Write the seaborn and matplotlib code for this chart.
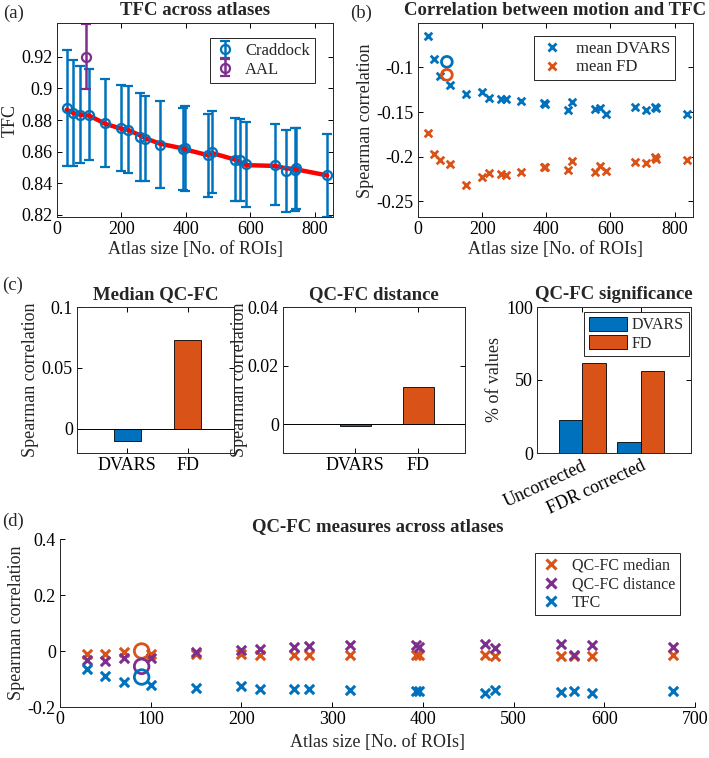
import numpy as np
import pandas as pd
import seaborn as sns
import matplotlib.pyplot as plt
from matplotlib.ticker import FuncFormatter
from matplotlib.lines import Line2D
import matplotlib.patches as mpatches

# ---- data ----
atlas_size = [30, 50, 70, 100, 150, 200, 220, 258, 274, 320, 392, 396,
              468, 480, 552, 567, 586, 676, 710, 738, 742, 838]
tfc_mean = [0.8875, 0.8843, 0.8835, 0.8835, 0.878, 0.8751, 0.874, 0.8692, 0.8682, 0.8644, 0.8615, 0.8622,
            0.8577, 0.8598, 0.855, 0.8545, 0.852, 0.8518, 0.8478, 0.8487, 0.8495, 0.845]
tfc_err = [0.0367, 0.0336, 0.0308, 0.0287, 0.0279, 0.0273, 0.0273, 0.0279, 0.027, 0.0275, 0.026, 0.027,
           0.0262, 0.0258, 0.0264, 0.026, 0.0267, 0.0254, 0.026, 0.0264, 0.0255, 0.0263]
tfc_smooth = [0.8865, 0.8845, 0.8835, 0.8828, 0.8776, 0.8745, 0.8738, 0.8703, 0.8685, 0.865, 0.862, 0.8615,
              0.8578, 0.8592, 0.855, 0.8535, 0.8515, 0.851, 0.8495, 0.849, 0.8488, 0.845]
aal_size = [90]
aal_tfc = [0.920]
aal_err = [0.0205]

mean_dvars = [-0.0652, -0.0906, -0.110, -0.120, -0.130, -0.1276, -0.134, -0.1359, -0.135, -0.1378, -0.1404, -0.141,
              -0.148, -0.139, -0.1464, -0.145, -0.1517, -0.1441, -0.148, -0.1441, -0.145, -0.152]
mean_fd = [-0.1735, -0.1973, -0.2037, -0.2083, -0.232, -0.2226, -0.2188, -0.2196, -0.2207, -0.2177, -0.2113, -0.212,
           -0.215, -0.2045, -0.217, -0.2105, -0.2158, -0.2056, -0.2075, -0.200, -0.2025, -0.2037]
aal_dvars = [-0.0937]
aal_fd = [-0.1083]

motion = ["DVARS", "FD"]
median_qcfc = [-0.010, 0.0728]
dist_qcfc = [-0.0006, 0.0126]
sig_type = ["Uncorrected", "FDR corrected"]
sig_dvars = [22.3, 7.3]
sig_fd = [61.4, 56.4]

qc_size = atlas_size[:18]
qcfc_median = [-0.0095, -0.0095, -0.0036, -0.0095, -0.012, -0.012, -0.013, -0.0155, -0.0155, -0.0155, -0.0155,
               -0.0155, -0.0155, -0.018, -0.018, -0.017, -0.018, -0.0155]
qcfc_distance = [-0.031, -0.0357, -0.0238, -0.0238, -0.0036, 0.0048, 0.007, 0.0143, 0.0167, 0.020, 0.020,
                 0.014, 0.026, 0.011, 0.026, -0.0155, 0.020, 0.014]
qcfc_tfc = [-0.063, -0.0905, -0.1107, -0.120, -0.131, -0.126, -0.1345, -0.1345, -0.1345, -0.138, -0.143,
            -0.143, -0.149, -0.140, -0.146, -0.144, -0.150, -0.143]
aal_qc = [0.0, -0.0548, -0.0929]  # median, distance, TFC

BLUE = "#0072BD"
ORANGE = "#D95319"
PURPLE = "#7E2F8E"
AX_COL = "#262626"

sns.set_style("ticks")
plt.rcParams['font.family'] = ['Liberation Serif', 'DejaVu Serif']
plt.rcParams['font.size'] = 13
plt.rcParams['axes.edgecolor'] = AX_COL
plt.rcParams['axes.linewidth'] = 0.7

W, H = 709, 758
fig = plt.figure(figsize=(W / 100, H / 100), dpi=100)


def px_axes(l, r, t, b):
    return fig.add_axes([l / W, 1 - b / H, (r - l) / W, (b - t) / H])


gfmt = FuncFormatter(lambda v, p: "%g" % round(v, 6))


def style(ax, box=True):
    ax.tick_params(direction='in', length=3.5, width=0.7, labelsize=13, colors='black',
                   top=box, right=box, pad=3)
    for s in ['top', 'right']:
        ax.spines[s].set_visible(box)
    ax.yaxis.set_major_formatter(gfmt)


def legend(ax, handles, labels, anchor, fs=12, **kw):
    opts = dict(loc='upper right', bbox_to_anchor=anchor, frameon=True, fancybox=False,
                framealpha=1, edgecolor=AX_COL, fontsize=fs, borderaxespad=0,
                handletextpad=0.6, borderpad=0.3, labelspacing=0.15)
    opts.update(kw)
    lg = ax.legend(handles, labels, **opts)
    lg.get_frame().set_linewidth(0.7)
    return lg


# ---- (a) ----
ax = px_axes(57, 333, 23.3, 217.3)
h1 = ax.errorbar(atlas_size, tfc_mean, yerr=tfc_err, fmt='o', mfc='none', color=BLUE, ms=6.5, mew=1.6,
                 elinewidth=1.8, capsize=3.5, capthick=1.8)
h2 = ax.errorbar(aal_size, aal_tfc, yerr=aal_err, fmt='o', mfc='none', color=PURPLE, ms=6.5, mew=1.6,
                 elinewidth=1.8, capsize=3.5, capthick=1.8)
sns.lineplot(x=atlas_size, y=tfc_smooth, color='red', lw=3.2, ax=ax)
ax.set_xlim(0, 856)
ax.set_ylim(0.8185, 0.9412)
ax.set_xticks([0, 200, 400, 600, 800])
ax.set_yticks([0.82, 0.84, 0.86, 0.88, 0.9, 0.92])
style(ax)
ax.set_xlabel("Atlas size [No. of ROIs]", fontsize=13, labelpad=2)
ax.set_ylabel("TFC", fontsize=13, labelpad=2)
ax.set_title("TFC across atlases", fontsize=13.5, fontweight='bold', pad=6)
legend(ax, [h1, h2], ["Craddock", "AAL"], (0.935, 0.924), handlelength=1.2)

# ---- (b) ----
ax = px_axes(418, 692.5, 23.3, 217.3)
sns.scatterplot(x=atlas_size, y=mean_dvars, marker='x', color=BLUE, s=30, linewidth=2, ax=ax)
sns.scatterplot(x=atlas_size, y=mean_fd, marker='x', color=ORANGE, s=30, linewidth=2, ax=ax)
sns.scatterplot(x=aal_size, y=aal_dvars, marker='o', facecolor='none', edgecolor=BLUE, s=60, linewidth=2, ax=ax)
sns.scatterplot(x=aal_size, y=aal_fd, marker='o', facecolor='none', edgecolor=ORANGE, s=60, linewidth=2, ax=ax)
ax.set_xlim(0, 856)
ax.set_ylim(-0.268, -0.0505)
ax.set_xticks([0, 200, 400, 600, 800])
ax.set_yticks([-0.25, -0.2, -0.15, -0.1])
style(ax)
ax.set_xlabel("Atlas size [No. of ROIs]", fontsize=13, labelpad=2)
ax.set_ylabel("Spearman correlation", fontsize=13, labelpad=2)
ax.set_title("Correlation between motion and TFC", fontsize=13.5, fontweight='bold', pad=6)
hb = [Line2D([], [], ls='none', marker='x', color=c, ms=5.5, mew=2) for c in (BLUE, ORANGE)]
legend(ax, hb, ["mean DVARS", "mean FD"], (0.936, 0.935), handlelength=1.6)

# ---- (c) ----
df_med = pd.DataFrame({"motion": motion, "value": median_qcfc})
df_dist = pd.DataFrame({"motion": motion, "value": dist_qcfc})
df_sig = pd.DataFrame({"type": sig_type * 2, "measure": ["DVARS"] * 2 + ["FD"] * 2,
                       "value": sig_dvars + sig_fd})

ax = px_axes(77, 234, 307, 453)
sns.barplot(data=df_med, x="motion", y="value", hue="motion", palette=[BLUE, ORANGE], width=0.45,
            saturation=1, edgecolor='black', linewidth=0.6, legend=False, ax=ax)
ax.axhline(0, color='black', lw=0.7)
ax.set_xlim(-0.836, 1.77)
ax.set_ylim(-0.02, 0.1)
ax.set_yticks([0, 0.05, 0.1])
style(ax)
ax.set_xlabel("")
ax.set_ylabel("Spearman correlation", fontsize=13, labelpad=2)
ax.set_title("Median QC-FC", fontsize=13.5, fontweight='bold', pad=6)

ax = px_axes(283, 465, 307, 453)
sns.barplot(data=df_dist, x="motion", y="value", hue="motion", palette=[BLUE, ORANGE], width=0.49,
            saturation=1, edgecolor='black', linewidth=0.6, legend=False, ax=ax)
ax.axhline(0, color='black', lw=0.7)
ax.set_xlim(-1.149, 1.74)
ax.set_ylim(-0.0098, 0.04)
ax.set_yticks([0, 0.02, 0.04])
style(ax)
ax.set_xlabel("")
ax.set_ylabel("Spearman correlation", fontsize=13, labelpad=0)
ax.set_title("QC-FC distance", fontsize=13.5, fontweight='bold', pad=6)

ax = px_axes(537, 691, 307, 453)
sns.barplot(data=df_sig, x="type", y="value", hue="measure", palette=[BLUE, ORANGE], width=0.8,
            saturation=1, edgecolor='black', linewidth=0.6, ax=ax)
ax.set_xlim(-0.77, 1.86)
ax.set_ylim(0, 100)
ax.set_yticks([0, 50, 100])
style(ax)
ax.set_xlabel("")
ax.set_ylabel("% of values", fontsize=13, labelpad=2)
ax.set_title("QC-FC significance", fontsize=13.5, fontweight='bold', pad=6)
for t in ax.get_xticklabels():
    t.set_rotation(25)
    t.set_ha('right')
    t.set_rotation_mode('anchor')
hc = [mpatches.Patch(facecolor=c, edgecolor='black', linewidth=0.6) for c in (BLUE, ORANGE)]
legend(ax, hc, ["DVARS", "FD"], (0.985, 0.966), fs=11.5, handlelength=2.4, handleheight=1.0,
       labelspacing=0.1, handletextpad=0.3)

# ---- (d) ----
ax = px_axes(60, 695, 539, 707)
sns.scatterplot(x=qc_size, y=qcfc_median, marker='x', color=ORANGE, s=45, linewidth=2.2, ax=ax)
sns.scatterplot(x=qc_size, y=qcfc_distance, marker='x', color=PURPLE, s=45, linewidth=2.2, ax=ax)
sns.scatterplot(x=qc_size, y=qcfc_tfc, marker='x', color=BLUE, s=45, linewidth=2.2, ax=ax)
for v, c in zip(aal_qc, (ORANGE, PURPLE, BLUE)):
    sns.scatterplot(x=aal_size, y=[v], marker='o', facecolor='none', edgecolor=c, s=110, linewidth=2, ax=ax)
ax.set_xlim(0, 700)
ax.set_ylim(-0.2, 0.4)
ax.set_xticks(range(0, 701, 100))
ax.set_yticks([-0.2, 0, 0.2, 0.4])
style(ax, box=False)
ax.set_xlabel("Atlas size [No. of ROIs]", fontsize=13, labelpad=4)
ax.set_ylabel("Spearman correlation", fontsize=13, labelpad=2)
ax.set_title("QC-FC measures across atlases", fontsize=13.5, fontweight='bold', pad=6)
hd = [Line2D([], [], ls='none', marker='x', color=c, ms=6.5, mew=2.2) for c in (ORANGE, PURPLE, BLUE)]
legend(ax, hd, ["QC-FC median", "QC-FC distance", "TFC"], (0.976, 0.917), fs=11.5, handlelength=1.4)

# panel letters
for lab, x, y in [("(a)", 3, 13), ("(b)", 350, 13), ("(c)", 2, 285), ("(d)", 2, 521)]:
    fig.text(x / W, 1 - y / H, lab, fontsize=13.5, va='center', ha='left')

fig.savefig("out.png", dpi=100)
